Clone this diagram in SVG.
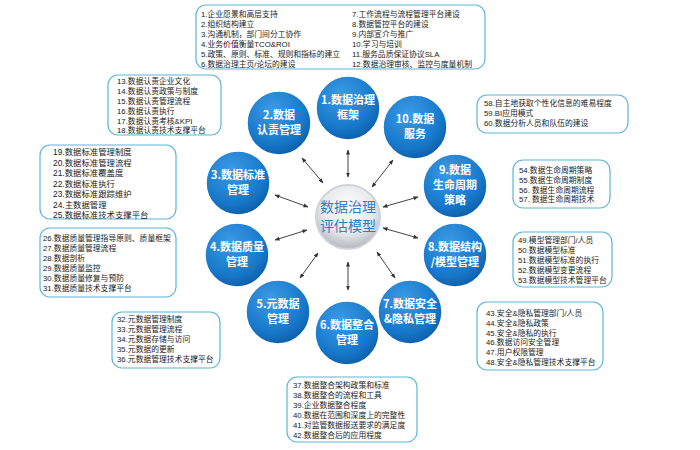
<svg xmlns="http://www.w3.org/2000/svg" width="700" height="450" viewBox="0 0 700 450">
<defs>
<radialGradient id="bg" cx="0.4" cy="0.3" r="0.75"><stop offset="0" stop-color="#3d9be6"/><stop offset="0.7" stop-color="#1677c9"/><stop offset="1" stop-color="#0c5ba3"/></radialGradient>
<radialGradient id="cg" cx="0.5" cy="0.35" r="0.7"><stop offset="0" stop-color="#ffffff"/><stop offset="0.6" stop-color="#e4e6ea"/><stop offset="1" stop-color="#a9adb4"/></radialGradient>
<marker id="a" viewBox="0 0 10 10" refX="9" refY="5" markerWidth="5" markerHeight="5" orient="auto-start-reverse"><path d="M0,1 L10,5 L0,9 z" fill="#333"/></marker>
</defs>
<style>
.n{fill:url(#bg);stroke:#fff;stroke-width:1.5}
.nt{font-family:"Noto Sans CJK SC","Liberation Sans",sans-serif;font-size:11px;font-weight:bold;fill:#fff;text-anchor:middle}
.b{fill:#fff;stroke:#5bb6d8;stroke-width:1.2}
.t{font-family:"Liberation Sans","Noto Sans CJK SC",sans-serif;font-size:7.8px;fill:#222}
.c line{stroke:#444;stroke-width:1;marker-start:url(#a);marker-end:url(#a)}
.ct{font-family:"Noto Sans CJK SC",sans-serif;font-size:14px;fill:#2f7fc4;text-anchor:middle}
</style>
<rect width="700" height="450" fill="#fff"/>
<g class="c" id="connectors">
<line x1="348" y1="150" x2="348" y2="177"/>
<line x1="302" y1="158" x2="323" y2="183"/>
<line x1="393" y1="160" x2="372" y2="187"/>
<line x1="275" y1="195" x2="308" y2="207"/>
<line x1="418" y1="197" x2="383" y2="207"/>
<line x1="275" y1="240" x2="307" y2="230"/>
<line x1="418" y1="238" x2="383" y2="228"/>
<line x1="300" y1="278" x2="318" y2="253"/>
<line x1="348" y1="262" x2="348" y2="290"/>
<line x1="395" y1="278" x2="377" y2="252"/>
</g>
<g id="center"><circle cx="348" cy="217" r="32" fill="url(#cg)" stroke="#d0d4da" stroke-width="2"/>
<text class="ct" x="348" y="212">数据治理</text>
<text class="ct" x="348" y="231">评估模型</text></g>
<g id="n1"><circle class="n" cx="348" cy="108" r="32"/><text class="nt" x="348" y="104">1.数据治理</text><text class="nt" x="348" y="119">框架</text></g>
<g id="n2"><circle class="n" cx="279" cy="123" r="32"/><text class="nt" x="279" y="119">2.数据</text><text class="nt" x="279" y="134">认责管理</text></g>
<g id="n10"><circle class="n" cx="415" cy="127" r="32"/><text class="nt" x="415" y="123">10.数据</text><text class="nt" x="415" y="138">服务</text></g>
<g id="n3"><circle class="n" cx="238" cy="183" r="32"/><text class="nt" x="238" y="179">3.数据标准</text><text class="nt" x="238" y="194">管理</text></g>
<g id="n9"><circle class="n" cx="455" cy="186" r="32"/><text class="nt" x="455" y="174">9.数据</text><text class="nt" x="455" y="189">生命周期</text><text class="nt" x="455" y="204">策略</text></g>
<g id="n4"><circle class="n" cx="237" cy="255" r="32"/><text class="nt" x="237" y="251">4.数据质量</text><text class="nt" x="237" y="266">管理</text></g>
<g id="n8"><circle class="n" cx="455" cy="255" r="32"/><text class="nt" x="455" y="251">8.数据结构</text><text class="nt" x="455" y="266">/模型管理</text></g>
<g id="n5"><circle class="n" cx="278" cy="312" r="32"/><text class="nt" x="278" y="308">5.元数据</text><text class="nt" x="278" y="323">管理</text></g>
<g id="n6"><circle class="n" cx="347" cy="333" r="32"/><text class="nt" x="347" y="329">6.数据整合</text><text class="nt" x="347" y="344">管理</text></g>
<g id="n7"><circle class="n" cx="410" cy="312" r="32"/><text class="nt" x="410" y="308">7.数据安全</text><text class="nt" x="410" y="323">&amp;隐私管理</text></g>

<g id="box1"><rect class="b" x="196" y="5" width="289" height="64" rx="10"/>
<text class="t" x="201" y="17">1.企业愿景和高层支持</text><text class="t" x="201" y="27">2.组织结构建立</text><text class="t" x="201" y="37">3.沟通机制，部门间分工协作</text><text class="t" x="201" y="47">4.业务价值衡量TCO&amp;ROI</text><text class="t" x="201" y="57">5.政策、原则、标准、规则和指标的建立</text><text class="t" x="201" y="67">6.数据治理主页/论坛的建设</text>
<text class="t" x="352" y="17">7.工作流程与流程管理平台建设</text><text class="t" x="352" y="27">8.数据管控平台的建设</text><text class="t" x="352" y="37">9.内部宣介与推广</text><text class="t" x="352" y="47">10.学习与培训</text><text class="t" x="352" y="57">11.服务品质保证协议SLA</text><text class="t" x="352" y="67">12.数据治理审核、监控与度量机制</text></g>
<g id="box2"><rect class="b" x="108" y="75" width="113" height="60" rx="10"/>
<text class="t" x="117" y="84">13.数据认责企业文化</text><text class="t" x="117" y="94">14.数据认责政策与制度</text><text class="t" x="117" y="104">15.数据认责管理流程</text><text class="t" x="117" y="114">16.数据认责执行</text><text class="t" x="117" y="124">17.数据认责考核&amp;KPI</text><text class="t" x="117" y="133">18.数据认责技术支撑平台</text></g>
<g id="box3"><rect class="b" x="40" y="145" width="136" height="74" rx="10"/>
<text class="t" x="53" y="155" style="font-size:8.4px">19.数据标准管理制度</text><text class="t" x="53" y="165.5" style="font-size:8.4px">20.数据标准管理流程</text><text class="t" x="53" y="176" style="font-size:8.4px">21.数据标准覆盖度</text><text class="t" x="53" y="186.5" style="font-size:8.4px">22.数据标准执行</text><text class="t" x="53" y="197" style="font-size:8.4px">23.数据标准跟踪维护</text><text class="t" x="53" y="207.5" style="font-size:8.4px">24.主数据管理</text><text class="t" x="53" y="218" style="font-size:8.4px">25.数据标准技术支撑平台</text></g>
<g id="box4"><rect class="b" x="40" y="228" width="136" height="69" rx="10"/>
<text class="t" x="43" y="241">26.数据质量管理指导原则、质量框架</text><text class="t" x="43" y="251">27.数据质量管理流程</text><text class="t" x="43" y="261">28.数据剖析</text><text class="t" x="43" y="271">29.数据质量监控</text><text class="t" x="43" y="281">30.数据质量修复与预防</text><text class="t" x="43" y="291">31.数据质量技术支撑平台</text></g>
<g id="box5"><rect class="b" x="112" y="312" width="108" height="56" rx="10"/>
<text class="t" x="117" y="322">32.元数据管理制度</text><text class="t" x="117" y="332">33.元数据管理流程</text><text class="t" x="117" y="342">34.元数据存储与访问</text><text class="t" x="117" y="352">35.元数据的更新</text><text class="t" x="117" y="362">36.元数据管理技术支撑平台</text></g>
<g id="box6"><rect class="b" x="287" y="377" width="130" height="65" rx="10"/>
<text class="t" x="293" y="388">37.数据整合架构政策和标准</text><text class="t" x="293" y="398">38.数据整合的流程和工具</text><text class="t" x="293" y="408">39.企业数据整合程度</text><text class="t" x="293" y="418">40.数据在范围和深度上的完整性</text><text class="t" x="293" y="428">41.对监管数据报送要求的满足度</text><text class="t" x="293" y="438">42.数据整合后的应用程度</text></g>
<g id="box7"><rect class="b" x="477" y="302" width="126" height="68" rx="10"/>
<text class="t" x="486" y="316">43.安全&amp;隐私管理部门/人员</text><text class="t" x="486" y="326">44.安全&amp;隐私政策</text><text class="t" x="486" y="336">45.安全&amp;隐私的执行</text><text class="t" x="486" y="345">46.数据访问安全管理</text><text class="t" x="486" y="355">47.用户权限管理</text><text class="t" x="486" y="365">48.安全&amp;隐私管理技术支撑平台</text></g>
<g id="box8"><rect class="b" x="513" y="232" width="99" height="55" rx="10"/>
<text class="t" x="518" y="243">49.模型管理部门/人员</text><text class="t" x="518" y="253">50.数据模型标准</text><text class="t" x="518" y="263">51.数据模型标准的执行</text><text class="t" x="518" y="273">52.数据模型变更流程</text><text class="t" x="518" y="283">53.数据模型技术管理平台</text></g>
<g id="box9"><rect class="b" x="513" y="160" width="97" height="48" rx="10"/>
<text class="t" x="519" y="173">54.数据生命周期策略</text><text class="t" x="519" y="183">55.数据生命周期制度</text><text class="t" x="519" y="193">56. 数据生命周期流程</text><text class="t" x="519" y="202">57. 数据生命周期技术</text></g>
<g id="box10"><rect class="b" x="477" y="95" width="151" height="38" rx="10"/>
<text class="t" x="484" y="106">58.自主地获取个性化信息的难易程度</text><text class="t" x="484" y="116">59.BI应用模式</text><text class="t" x="484" y="126">60.数据分析人员和队伍的建设</text></g>
</svg>
